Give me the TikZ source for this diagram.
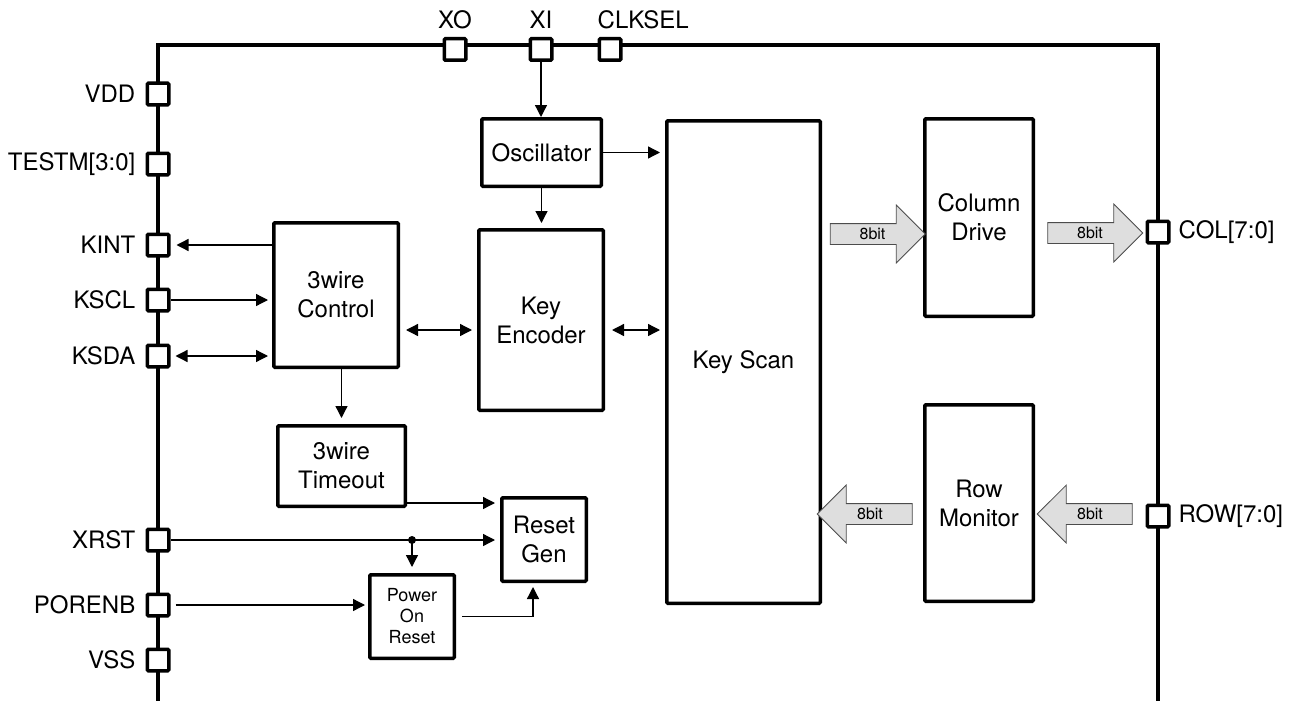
\documentclass[tikz,border=0pt]{standalone}
\usepackage{fontspec}
\setmainfont{TeX Gyre Heros}
\usetikzlibrary{positioning,arrows.meta,shapes.arrows,calc}

\begin{document}
\begin{tikzpicture}[
    x=1pt, y=-1pt,
    font=\fontsize{24}{29}\selectfont,
    every node/.style={align=center},
    block/.style={rectangle, draw, line width=3.5pt, rounded corners=1pt, fill=white},
    pad/.style={rectangle, draw, line width=3.5pt, rounded corners=1pt, fill=white, minimum size=21.5pt, inner sep=0pt},
    lbl/.style={inner sep=0pt},
    chip/.style={line width=3.5pt},
    arr/.style={-{Triangle[length=12pt,width=12pt]}, line width=1.3pt},
    biarr/.style={{Triangle[length=12pt,width=12pt]}-{Triangle[length=12pt,width=12pt]}, line width=1.3pt},
    bus/.style={single arrow, draw=black!70, line width=0.8pt, fill=black!13, minimum height=95pt,
        single arrow head extend=18.5pt, inner xsep=2pt, inner ysep=3pt, text height=12pt, text depth=2pt,
        font=\fontsize{16}{19}\selectfont},
    smalltxt/.style={font=\fontsize{18}{21}\selectfont}
]
\useasboundingbox (0,0) rectangle (1299,701);

\draw[chip] (158,701) -- (158,45) -- (1158,45) -- (1158,701);

\node[pad] (pxo)  at (455,49.5) {};
\node[pad] (pxi)  at (541,49.5) {};
\node[pad] (pclk) at (610,49.5) {};
\node[lbl, above=8pt of pxo] (xolbl) {XO};
\node[lbl, above=8pt of pxi] (xilbl) {XI};
\node[lbl, anchor=south west] (clklbl) at ([yshift=8pt]pclk.north west) {CLKSEL};

\node[pad] (pvdd)    at (158,94)  {};
\node[pad] (ptestm)  at (158,164) {};
\node[pad] (pkint)   at (158,245) {};
\node[pad] (pkscl)   at (158,300) {};
\node[pad] (pksda)   at (158,356) {};
\node[pad] (pxrst)   at (158,540) {};
\node[pad] (pporenb) at (158,605) {};
\node[pad] (pvss)    at (158,660) {};
\node[lbl, left=10pt of pvdd]    (vddlbl)    {VDD};
\node[lbl, left=10pt of ptestm]  (testmlbl)  {TESTM[3:0]};
\node[lbl, left=10pt of pkint]   (kintlbl)   {KINT};
\node[lbl, left=10pt of pkscl]   (kscllbl)   {KSCL};
\node[lbl, left=10pt of pksda]   (ksdalbl)   {KSDA};
\node[lbl, left=10pt of pxrst]   (xrstlbl)   {XRST};
\node[lbl, left=10pt of pporenb] (porenblbl) {PORENB};
\node[lbl, left=10pt of pvss]    (vsslbl)    {VSS};

\node[pad] (pcol) at (1158,232) {};
\node[pad] (prow) at (1158,516) {};
\node[lbl, right=8pt of pcol] (collbl) {COL[7:0]};
\node[lbl, right=8pt of prow] (rowlbl) {ROW[7:0]};

\node[block, minimum width=119.5pt, minimum height=67.5pt]  (osc)  at (541.5,152.5) {Oscillator};
\node[block, minimum width=124.5pt, minimum height=180.5pt] (enc)  at (541,320)     {Key\\Encoder};
\node[block, minimum width=124.5pt, minimum height=144.5pt] (ctl)  at (336,295)     {3wire\\Control};
\node[block, minimum width=127.5pt, minimum height=80.5pt]  (tmo)  at (341.5,466)   {3wire\\Timeout};
\node[block, minimum width=84.5pt,  minimum height=83.5pt]  (rst)  at (544,539.5)   {Reset\\Gen};
\node[block, smalltxt, minimum width=84.5pt, minimum height=83.5pt] (por) at (412,616.5) {Power\\On\\Reset};
\node[block, minimum width=153.5pt, minimum height=482.5pt] (scan) at (743.5,362)   {Key Scan};
\node[block, minimum width=108.5pt, minimum height=197.5pt] (col)  at (979,217.5)   {Column\\Drive};
\node[block, minimum width=108.5pt, minimum height=196.5pt] (row)  at (979,503)     {Row\\Monitor};

\node[bus] (bscan) at (872.5,234) {8bit};
\node[bus] (bcol)  at (1090,233)  {8bit};
\node[bus, shape border rotate=180] (brow) at (1090,514) {8bit};
\node[bus, shape border rotate=180] (bmon) at (870,514)  {8bit};

\draw[arr] (pxi.south) -- (pxi |- osc.north);
\draw[arr, shorten >=5pt] (osc.east) -- (osc -| scan.west);
\draw[arr, shorten >=5pt] (osc.south) -- (osc.south |- enc.north);

\draw[arr, shorten >=6pt] (ctl.west |- pkint) -- (pkint.east);
\draw[arr, shorten >=4pt] (pkscl.east) -- (pkscl -| ctl.west);
\draw[biarr, shorten <=5pt, shorten >=4pt] (pksda.east) -- (pksda -| ctl.west);

\coordinate (lnk) at (0,330);
\draw[biarr, shorten <=6pt, shorten >=5pt] (ctl.east |- lnk) -- (enc.west |- lnk);
\draw[biarr, shorten <=7pt, shorten >=5pt] (enc.east |- lnk) -- (scan.west |- lnk);

\draw[arr, shorten >=6pt] (tmo.north |- ctl.south) -- (tmo.north);

\coordinate (tmoout) at (0,503);
\draw[arr, shorten >=5pt] (tmo.east |- tmoout) -- (rst.west |- tmoout);

\draw[arr, shorten >=5pt] (pxrst.east) -- (pxrst -| rst.west);
\coordinate (jn) at (por.north |- pxrst);
\fill (jn) circle (4pt);
\draw[arr, shorten >=6pt] (jn) -- (por.north);
\draw[arr, shorten <=5pt, shorten >=3pt] (pporenb.east) -- (pporenb -| por.west);
\draw[arr, shorten <=6pt, shorten >=4pt] (por.east) -| ([xshift=-11pt]rst.south);

\end{tikzpicture}
\end{document}
